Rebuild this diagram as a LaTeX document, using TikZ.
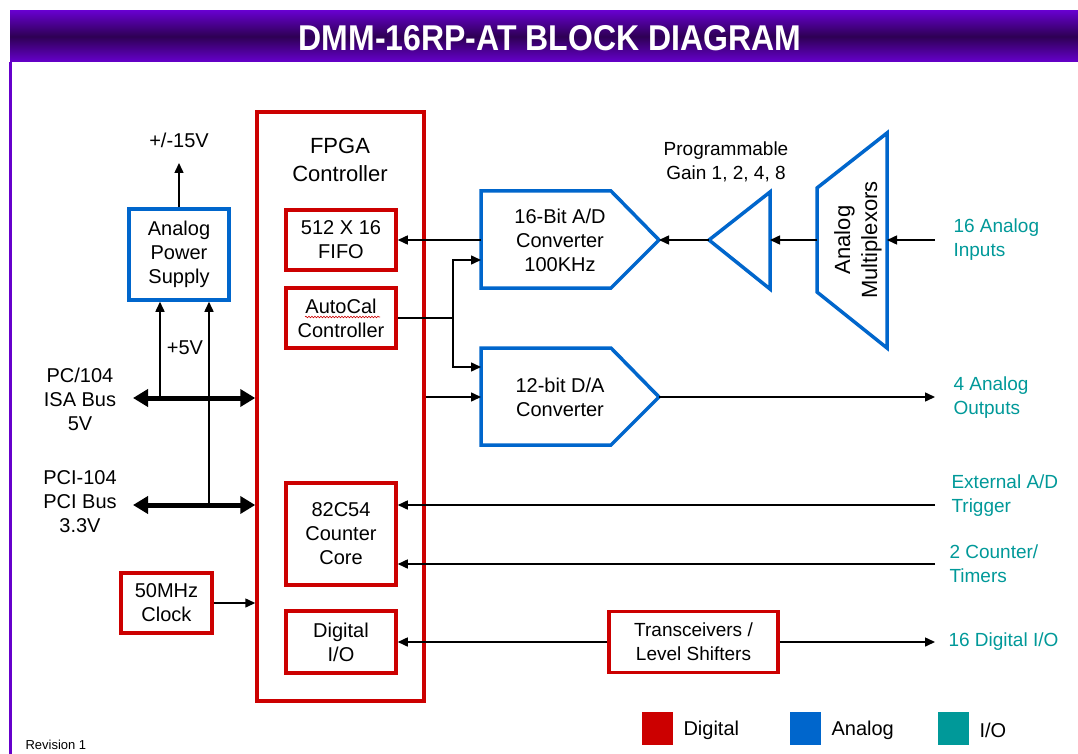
\documentclass[tikz,border=0pt]{standalone}
\usepackage{fontspec}
\setmainfont{Liberation Sans}
\usepackage{graphicx}
\usepackage{tikz}
\usetikzlibrary{arrows.meta, positioning, calc, decorations.pathmorphing}
\definecolor{digred}{RGB}{204, 0, 0}
\definecolor{anablue}{RGB}{0, 102, 204}
\definecolor{ioteal}{RGB}{0, 153, 153}
\definecolor{titlepurple}{RGB}{102, 0, 204}
\definecolor{titledark}{RGB}{46, 0, 84}
\newcommand{\fsz}[2]{\fontsize{#1}{#2}\selectfont}

\begin{document}
\begin{tikzpicture}[
    x=1pt, y=-1pt,
    digital/.style={draw=digred, line width=3.5pt, align=center, inner sep=0pt, font=\fsz{20}{24}},
    analog/.style={draw=anablue, line width=3.5pt, align=center, inner sep=0pt, font=\fsz{20}{24}},
    analogshape/.style={draw=anablue, line width=3.5pt, line join=miter},
    lbl/.style={align=center, font=\fsz{20}{24}},
    iolbl/.style={text=ioteal, align=left, anchor=west, font=\fsz{19}{24}},
    arrow/.style={-{Triangle[length=10pt,width=9pt]}, line width=1.5pt},
    bus/.style={{Triangle[length=15pt,width=17pt]}-{Triangle[length=15pt,width=17pt]}, line width=5pt},
    key/.style={minimum width=31pt, minimum height=33pt, inner sep=0pt}
]
    \useasboundingbox (0,0) rectangle (1078,754);
    \fill[white] (0,0) rectangle (1078,754);

    % Title bar and frame
    \shade[top color=titlepurple, bottom color=titlepurple, middle color=titledark] (10,11) rectangle (1078,62);
    \draw[titlepurple, line width=3pt] (10,62) -- (10,754);
    \node[text=white, font=\fsz{32}{36}\bfseries] (title) at (550,38) {\scalebox{1}[1.12]{DMM-16RP-AT BLOCK DIAGRAM}};

    % FPGA and its blocks
    \node[digital, minimum width=167, minimum height=589] (fpga) at (340.5,406.5) {};
    \node[lbl, font=\fsz{22}{28}] (fpgatitle) at (340,160) {FPGA\\Controller};
    \node[digital, minimum width=110, minimum height=60] (fifo) at (341,240) {512 X 16\\FIFO};
    \node[digital, minimum width=110, minimum height=60] (autocal) at (341,318) {AutoCal\\Controller};
    \node[digital, minimum width=110, minimum height=102] (counter) at (341,534) {82C54\\Counter\\Core};
    \node[digital, minimum width=110, minimum height=62] (dio) at (341,642) {Digital\\I/O};
    \draw[digred, line width=0.6pt, decorate, decoration={snake, amplitude=0.8pt, segment length=3pt}]
        (305,317) -- (380,317);

    % Left side blocks
    \node[analog, minimum width=100, minimum height=91] (psu) at (179,254.5) {Analog\\Power\\Supply};
    \node[digital, minimum width=91, minimum height=60] (clock) at (166.5,603) {50MHz\\Clock};
    \node[lbl] (pm15) at (179,140) {+/-15V};
    \coordinate (pm15 end) at (179,163);
    \node[lbl] (p5) at (185,348) {+5V};
    \node[lbl] (isalbl) at (80,399) {PC/104\\ISA Bus\\5V};
    \node[lbl] (pcilbl) at (80,502) {PCI-104\\PCI Bus\\3.3V};

    % Analog chain
    \draw[analogshape] (481,191) -- (611,191) -- (659,240) coordinate (adc tip) -- (611,288) -- (481,288) -- cycle;
    \node[lbl] (adc) at (560,240) {16-Bit A/D\\Converter\\100KHz};
    \draw[analogshape] (481,348) -- (611,348) -- (659,397) coordinate (dac tip) -- (611,445) -- (481,445) -- cycle;
    \node[lbl] (dac) at (560,397) {12-bit D/A\\Converter};
    \draw[analogshape] (709,240) coordinate (pga tip) -- (770,192) -- (770,289) -- cycle;
    \node[lbl, font=\fsz{19}{24}] (pgalbl) at (726,162) {Programmable\\Gain 1, 2, 4, 8};
    \draw[analogshape] (817,188) -- (887,133) -- (887,348) -- (817,292) -- cycle;
    \node[lbl, rotate=90, font=\fsz{22}{27}] (mux) at (858,240) {Analog\\Multiplexors};
    \node[digital, minimum width=169, minimum height=61, font=\fsz{19}{24}] (xcvr) at (693.5,642) {Transceivers /\\Level Shifters};

    \coordinate (adc in) at (481,240);
    \coordinate (adc cal) at (481,260);
    \coordinate (dac in) at (481,397);
    \coordinate (dac cal) at (481,367);
    \coordinate (branch) at (453,318);
    \coordinate (pga in) at (770,240);
    \coordinate (mux out) at (817,240);
    \coordinate (mux in) at (887,240);

    % I/O labels
    \node[iolbl] (ain) at (950,240) {16 Analog\\Inputs};
    \node[iolbl] (aout) at (950,398) {4 Analog\\Outputs};
    \node[iolbl] (trig) at (948,496) {External A/D\\Trigger};
    \node[iolbl] (tmr) at (946,564) {2 Counter/\\Timers};
    \node[iolbl] (dout) at (945,642) {16 Digital I/O};
    \coordinate (ain end) at (935,240);
    \coordinate (aout end) at (935,397);
    \coordinate (trig end) at (935,505);
    \coordinate (tmr end) at (935,564);
    \coordinate (dout end) at (935,642);

    % Connectors
    \draw[arrow] (ain end) -- (mux in);
    \draw[arrow] (mux out) -- (pga in);
    \draw[arrow] (pga tip) -- (adc tip);
    \draw[arrow] (adc in) -- (fifo.east);
    \draw[line width=1.5pt] (autocal.east) -- (branch);
    \draw[arrow] (branch) |- (adc cal);
    \draw[arrow] (branch) |- (dac cal);
    \draw[arrow] (dac in -| fpga.east) -- (dac in);
    \draw[arrow] (dac tip) -- (aout end);
    \draw[arrow] (trig end) -- (trig end -| counter.east);
    \draw[arrow] (tmr end) -- (tmr end -| counter.east);
    \draw[arrow] (xcvr.west) -- (dio.east);
    \draw[arrow] (xcvr.east) -- (dout end);
    \draw[arrow] (clock.east) -- (clock.east -| fpga.west);

    % Buses and power
    \coordinate (isa end) at (133,398);
    \coordinate (pci end) at (133,505);
    \coordinate (isa tap) at (160,398);
    \coordinate (pci tap) at (209,505);
    \draw[bus] (isa end) -- (isa end -| fpga.west);
    \draw[bus] (pci end) -- (pci end -| fpga.west);
    \draw[arrow] (isa tap) -- (isa tap |- psu.south);
    \draw[arrow] (pci tap) -- (pci tap |- psu.south);
    \draw[arrow] (psu.north) -- (pm15 end);

    % Legend
    \node[key, fill=digred] (keydig) at (657,728.5) {};
    \node[key, fill=anablue] (keyana) at (805,728.5) {};
    \node[key, fill=ioteal] (keyio) at (953,728.5) {};
    \node[lbl, anchor=west] (keydiglbl) at (680,730) {Digital};
    \node[lbl, anchor=west] (keyanalbl) at (828,730) {Analog};
    \node[lbl, anchor=west] (keyiolbl) at (976,730) {I/O};

    \node[anchor=west, font=\fsz{13}{15}] (rev) at (22,745) {Revision 1};
\end{tikzpicture}
\end{document}
